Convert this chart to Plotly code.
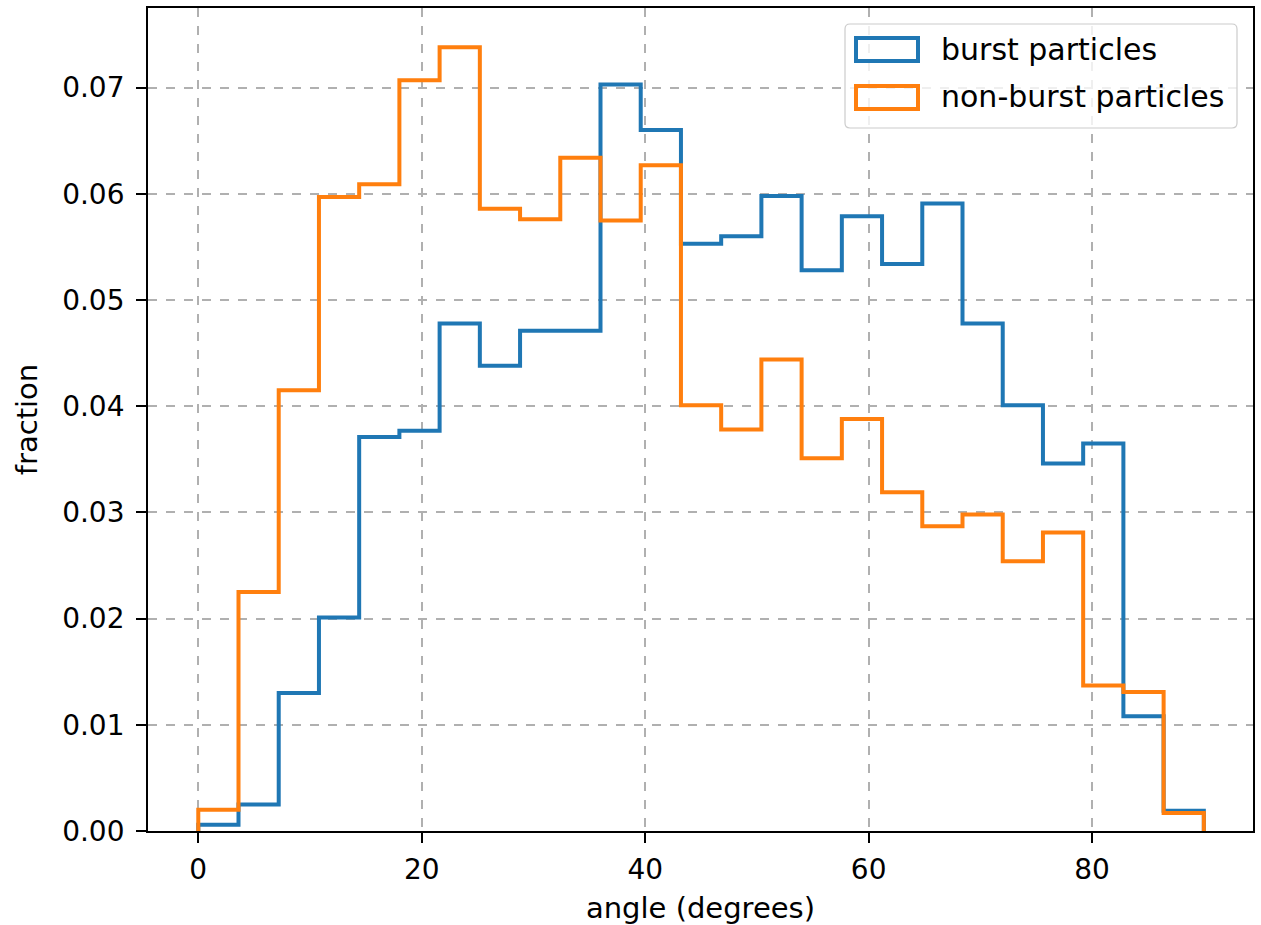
import plotly.graph_objects as go

# ---- data (fraction of particles per 3.6-degree angle bin) ----
bin_edges = [0.0, 3.6, 7.2, 10.8, 14.4, 18.0, 21.6, 25.2, 28.8, 32.4, 36.0, 39.6, 43.2,
             46.8, 50.4, 54.0, 57.6, 61.2, 64.8, 68.4, 72.0, 75.6, 79.2, 82.8, 86.4, 90.0]
burst = [0.0006, 0.0025, 0.0130, 0.0201, 0.0371, 0.0377, 0.0478, 0.0438, 0.0471, 0.0471,
         0.0703, 0.0660, 0.0553, 0.0560, 0.0598, 0.0528, 0.0579, 0.0534, 0.0591, 0.0478,
         0.0401, 0.0346, 0.0365, 0.0108, 0.0019]
non_burst = [0.0020, 0.0225, 0.0415, 0.0597, 0.0609, 0.0707, 0.0738, 0.0586, 0.0576, 0.0634,
             0.0575, 0.0627, 0.0401, 0.0378, 0.0444, 0.0351, 0.0388, 0.0319, 0.0287, 0.0298,
             0.0254, 0.0281, 0.0137, 0.0131, 0.0017]
series_names = ["burst particles", "non-burst particles"]
series_colors = ["#1f77b4", "#ff7f0e"]
x_ticks = [0, 20, 40, 60, 80]
y_ticks = [0.00, 0.01, 0.02, 0.03, 0.04, 0.05, 0.06, 0.07]

W, H = 1261, 925
ML, MR, MT, MB = 148, 8, 8, 94
PW, PH = W - ML - MR, H - MT - MB
FONT = "DejaVu Sans"
LW = 4.0


def step_xy(edges, vals):
    xs = [edges[0]] + list(edges[:-1]) + [edges[-1], edges[-1]]
    ys = [0] + list(vals) + [vals[-1], 0]
    return xs, ys


fig = go.Figure()
for name, vals, col in zip(series_names, [burst, non_burst], series_colors):
    xs, ys = step_xy(bin_edges, vals)
    fig.add_trace(go.Scatter(x=xs, y=ys, mode="lines", line=dict(color=col, width=LW, shape="hv"),
                             name=name, showlegend=False, hoverinfo="skip"))


def px(x):
    return (x - ML) / PW


def py(y):
    return (MT + PH - y) / PH


shapes = []
annotations = []
# legend frame (rounded)
x0, x1, y0, y1 = px(845), px(1237), py(128), py(24)
rx, ry = 5 / PW, 5 / PH
path = (f"M{x0+rx},{y0} L{x1-rx},{y0} Q{x1},{y0} {x1},{y0+ry} L{x1},{y1-ry} Q{x1},{y1} {x1-rx},{y1} "
        f"L{x0+rx},{y1} Q{x0},{y1} {x0},{y1-ry} L{x0},{y0+ry} Q{x0},{y0} {x0+rx},{y0} Z")
shapes.append(dict(type="path", xref="paper", yref="paper", path=path,
                   fillcolor="rgba(255,255,255,0.8)", line=dict(color="#cccccc", width=1.2), layer="above"))
for i, (name, col) in enumerate(zip(series_names, series_colors)):
    top = 38 + i * 48
    shapes.append(dict(type="rect", xref="paper", yref="paper", x0=px(856), x1=px(918),
                       y0=py(top + 23), y1=py(top), line=dict(color=col, width=LW),
                       fillcolor="rgba(0,0,0,0)", layer="above"))
    annotations.append(dict(xref="paper", yref="paper", x=px(939), y=py(top + 11), text=name,
                            showarrow=False, xanchor="left", yanchor="middle",
                            font=dict(family=FONT, size=30, color="black")))

axis_common = dict(showline=True, linecolor="black", linewidth=1.8, mirror=True,
                   ticks="outside", ticklen=10, tickwidth=1.8, tickcolor="black",
                   showgrid=True, gridcolor="#b0b0b0", griddash="dash", gridwidth=1.5,
                   zeroline=False, tickfont=dict(family=FONT, size=28, color="black"))

fig.update_layout(
    width=W, height=H,
    margin=dict(l=ML, r=MR, t=MT, b=MB, autoexpand=False),
    paper_bgcolor="white", plot_bgcolor="white",
    showlegend=False,
    shapes=shapes, annotations=annotations,
    xaxis=dict(range=[-4.5, 94.4], tickvals=x_ticks, ticktext=[str(v) for v in x_ticks],
               title=dict(text="angle (degrees)", font=dict(family=FONT, size=29, color="black"), standoff=14),
               ticklabelstandoff=2,
               **axis_common),
    yaxis=dict(range=[0, 0.0775], tickvals=y_ticks, ticktext=[f"{v:.2f}" for v in y_ticks],
               title=dict(text="fraction", font=dict(family=FONT, size=29, color="black"), standoff=16),
               ticklabelstandoff=6,
               **axis_common),
)

fig.write_html("out.html")
